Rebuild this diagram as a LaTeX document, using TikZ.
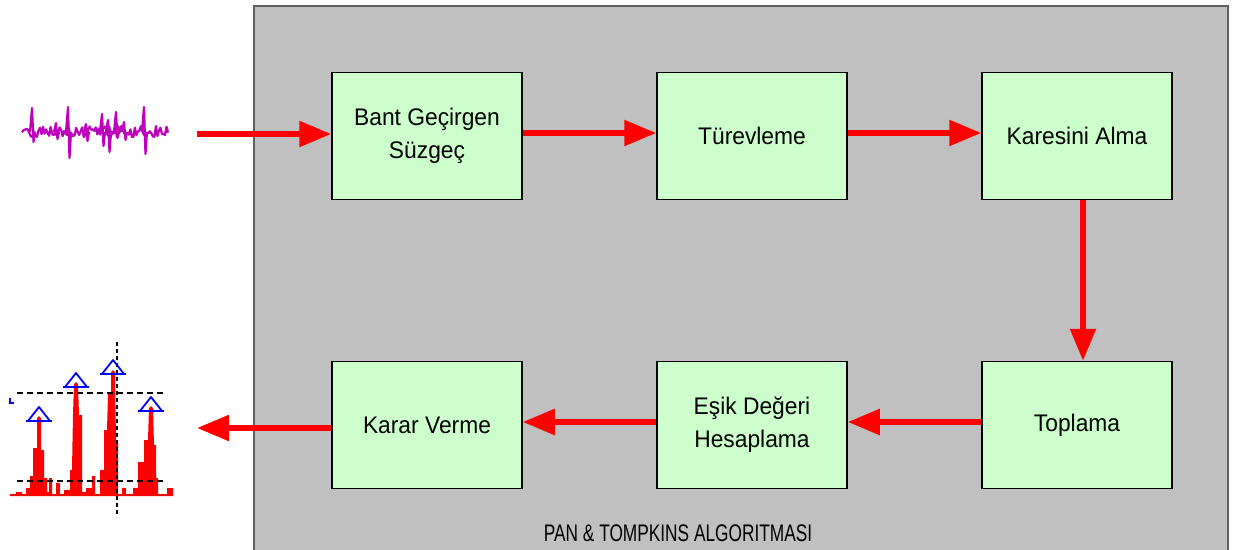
\documentclass[tikz,border=0pt]{standalone}
\usepackage{fontspec}
\setmainfont{Liberation Sans}[FakeStretch=0.95]
\newfontfamily\labelfont{Liberation Sans}[FakeStretch=0.72]
\usetikzlibrary{arrows.meta}
\definecolor{panelgray}{RGB}{192,192,192}
\definecolor{panelborder}{RGB}{96,96,96}
\definecolor{boxgreen}{RGB}{204,255,204}
\definecolor{ecgpurple}{RGB}{190,0,190}
\definecolor{markblue}{RGB}{0,0,255}
\tikzset{
  blockbox/.style={draw=black, line width=1.5pt, fill=boxgreen, minimum width=190pt, minimum height=127pt, align=center, font=\fontsize{24}{33}\selectfont, inner sep=0pt},
  flow/.style={draw=red, line width=5.5pt, -{Triangle[length=32pt,width=25pt]}},
  peakmark/.style={draw=markblue, line width=1.8pt},
  guide/.style={draw=black, line width=1.3pt, dash pattern=on 6pt off 4pt},
  ecg/.style={draw=ecgpurple, line width=2.2pt, line join=round},
}
\begin{document}
\begin{tikzpicture}[x=1pt,y=-1pt]
\useasboundingbox (0,0) rectangle (1234,549);
\clip (0,0) rectangle (1234,549);
% panel
\draw[fill=panelgray, draw=panelborder, line width=1.5pt] (254,6) rectangle (1228,570);
\node[font=\labelfont\fontsize{24}{28}\selectfont, anchor=base] (title) at (678,541) {PAN \& TOMPKINS ALGORITMASI};
% blocks
\node[blockbox] (b1) at (427,136) {Bant Geçirgen\\Süzgeç};
\node[blockbox] (b2) at (752,136) {Türevleme};
\node[blockbox] (b3) at (1077,136) {Karesini Alma};
\node[blockbox] (b6) at (1077,425) {Toplama};
\node[blockbox] (b5) at (752,425) {Eşik Değeri\\Hesaplama};
\node[blockbox] (b4) at (427,425) {Karar Verme};
% connectors
\coordinate (inp) at (197,134);
\coordinate (outp) at (197,428);
\draw[flow] (inp) -- (inp -| b1.west);
\draw[flow] ([yshift=3pt]b1.east) -- ([yshift=3pt]b2.west);
\draw[flow] ([yshift=3pt]b2.east) -- ([yshift=3pt]b3.west);
\draw[flow] ([xshift=6pt]b3.south) -- ([xshift=6pt]b6.north);
\draw[flow] ([yshift=3pt]b6.west) -- ([yshift=3pt]b5.east);
\draw[flow] ([yshift=3pt]b5.west) -- ([yshift=3pt]b4.east);
\draw[flow] (outp -| b4.west) -- (outp);
% input ECG signal: noisy band plus spikes
\pgfmathsetseed{11}
\draw[ecg] plot[domain=22:168, samples=98] (\x, {132+6*rand});
\foreach \sx/\sa/\sb in {32/-24/10, 68/-25/26, 102/-18/14, 108/-12/20, 116/-20/6, 124/-10/8, 144/-25/22, 86/-8/9, 56/-9/7}{
  \draw[ecg] (\sx-2,132) -- (\sx,132+\sa) -- (\sx+1.5,132+\sb) -- (\sx+3,132);
}
% output detection chart
\fill[red] (10,496) -- (10,494) -- (16,494) -- (16,492) -- (22,492) -- (22,494) -- (26,494) -- (26,488)
 -- (30,488) -- (30,476) -- (33,476) -- (33,448) -- (37,448) -- (37,418) -- (39,416) -- (41,418) -- (41,450)
 -- (44,450) -- (44,478) -- (47,478) -- (47,492) -- (49,492) -- (49,478) -- (52,478) -- (52,494)
 -- (56,494) -- (56,483) -- (60,483) -- (60,494) -- (64,494) -- (64,490) -- (70,490) -- (70,470)
 -- (72,470) -- (73,414) -- (74,384) -- (76,382) -- (78,384) -- (79,415) -- (82,415) -- (82,492) -- (86,492)
 -- (86,488) -- (92,488) -- (92,476) -- (95,476) -- (95,494) -- (100,494) -- (100,470) -- (104,470)
 -- (104,430) -- (107,430) -- (108,394) -- (111,394) -- (111,372) -- (113,370) -- (115,372) -- (116,440)
 -- (118,440) -- (118,494) -- (122,494) -- (122,488) -- (126,488) -- (126,494) -- (133,494) -- (133,488)
 -- (138,488) -- (138,462) -- (144,462) -- (144,440) -- (148,440) -- (149,408) -- (151,406) -- (153,408)
 -- (154,445) -- (156,445) -- (156,478) -- (158,478) -- (158,494) -- (167,494) -- (167,488) -- (173,488)
 -- (173,496) -- cycle;
\draw[guide] (17,393) -- (166,393);
\draw[guide] (17,481) -- (166,481);
\draw[draw=black, line width=2pt, dash pattern=on 4pt off 3pt] (117,342) -- (117,517);
\draw[markblue, line width=1.8pt] (10,398) -- (10,403) -- (14,403);
\foreach \px/\py in {39/417, 76/383, 113/370, 151/407}{
  \draw[peakmark, line join=round] (\px-11,\py+4) -- (\px,\py-10) -- (\px+11,\py+4) -- cycle;
  \draw[peakmark] (\px-13,\py+4) -- (\px+13,\py+4);
}
\end{tikzpicture}
\end{document}
